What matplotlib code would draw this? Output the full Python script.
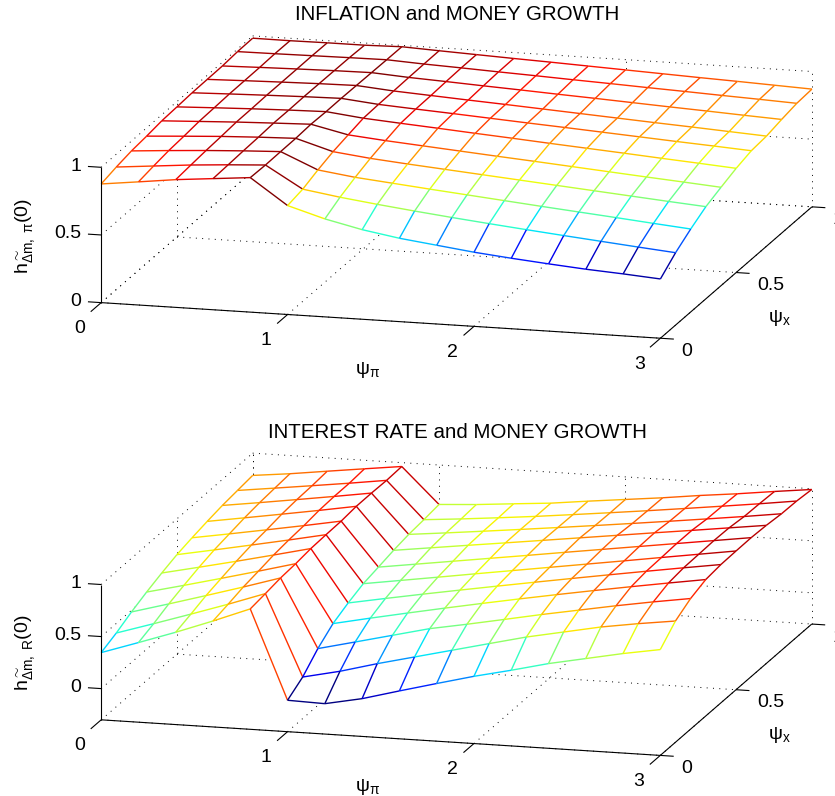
import numpy as np
import matplotlib
matplotlib.use('Agg')
import matplotlib.pyplot as plt
from matplotlib.colors import Normalize
from mpl_toolkits.mplot3d.art3d import Line3DCollection, Poly3DCollection

plt.rcParams['font.family'] = ['Liberation Sans', 'DejaVu Sans']
plt.rcParams['mathtext.fontset'] = 'custom'
plt.rcParams['mathtext.rm'] = 'Liberation Sans'
plt.rcParams['mathtext.it'] = 'Liberation Sans:italic'
plt.rcParams['mathtext.bf'] = 'Liberation Sans:bold'
plt.rcParams['mathtext.sf'] = 'Liberation Sans'

# ---------------- data ----------------
psi_pi = [0.0, 0.2, 0.4, 0.6, 0.8, 1.0, 1.2, 1.4, 1.6, 1.8, 2.0, 2.2, 2.4, 2.6, 2.8, 3.0]
psi_x = [0.0, 0.1, 0.2, 0.3, 0.4, 0.5, 0.6, 0.7, 0.8, 0.9, 1.0]

# rows: psi_x, columns: psi_pi
h_pi = [
    [0.877, 0.910, 0.944, 0.969, 0.994, 0.805, 0.724, 0.662, 0.616, 0.582, 0.548, 0.521, 0.497, 0.475, 0.458, 0.438],
    [0.905, 0.930, 0.955, 0.974, 0.990, 0.829, 0.787, 0.752, 0.720, 0.690, 0.662, 0.635, 0.609, 0.584, 0.559, 0.535],
    [0.927, 0.947, 0.965, 0.980, 0.992, 0.874, 0.837, 0.811, 0.785, 0.760, 0.735, 0.710, 0.686, 0.662, 0.637, 0.613],
    [0.939, 0.956, 0.972, 0.984, 0.993, 0.912, 0.880, 0.856, 0.834, 0.812, 0.790, 0.768, 0.746, 0.724, 0.702, 0.681],
    [0.955, 0.968, 0.981, 0.991, 1.000, 0.939, 0.914, 0.893, 0.872, 0.851, 0.831, 0.810, 0.789, 0.768, 0.748, 0.727],
    [0.961, 0.972, 0.982, 0.990, 0.996, 0.965, 0.945, 0.926, 0.906, 0.887, 0.867, 0.848, 0.829, 0.809, 0.790, 0.770],
    [0.968, 0.977, 0.985, 0.992, 0.997, 0.970, 0.953, 0.937, 0.920, 0.903, 0.887, 0.870, 0.853, 0.836, 0.820, 0.803],
    [0.970, 0.978, 0.985, 0.991, 0.995, 0.972, 0.956, 0.940, 0.925, 0.909, 0.893, 0.877, 0.861, 0.846, 0.830, 0.814],
    [0.972, 0.979, 0.985, 0.990, 0.993, 0.975, 0.962, 0.948, 0.935, 0.921, 0.908, 0.894, 0.880, 0.867, 0.853, 0.840],
    [0.981, 0.983, 0.986, 0.989, 0.991, 0.977, 0.966, 0.954, 0.943, 0.931, 0.920, 0.908, 0.897, 0.885, 0.874, 0.862],
    [0.983, 0.982, 0.984, 0.984, 0.990, 0.978, 0.967, 0.956, 0.946, 0.935, 0.924, 0.913, 0.902, 0.892, 0.881, 0.870],
]

h_R = [
    [0.346, 0.465, 0.587, 0.718, 0.857, 0.002, -0.008, 0.063, 0.160, 0.254, 0.346, 0.427, 0.514, 0.585, 0.656, 0.717],
    [0.408, 0.520, 0.635, 0.753, 0.878, 0.099, 0.177, 0.273, 0.360, 0.447, 0.534, 0.620, 0.691, 0.762, 0.817, 0.865],
    [0.484, 0.584, 0.687, 0.792, 0.902, 0.246, 0.332, 0.419, 0.506, 0.571, 0.640, 0.710, 0.775, 0.840, 0.900, 0.955],
    [0.549, 0.636, 0.726, 0.818, 0.913, 0.360, 0.435, 0.507, 0.577, 0.645, 0.711, 0.775, 0.837, 0.897, 0.955, 1.011],
    [0.606, 0.684, 0.764, 0.847, 0.932, 0.432, 0.498, 0.562, 0.624, 0.685, 0.745, 0.804, 0.862, 0.919, 0.975, 1.029],
    [0.656, 0.724, 0.794, 0.865, 0.939, 0.491, 0.545, 0.599, 0.654, 0.708, 0.762, 0.816, 0.870, 0.925, 0.979, 1.033],
    [0.692, 0.752, 0.814, 0.877, 0.943, 0.524, 0.575, 0.626, 0.677, 0.728, 0.780, 0.831, 0.882, 0.933, 0.984, 1.035],
    [0.723, 0.780, 0.838, 0.897, 0.959, 0.559, 0.606, 0.653, 0.699, 0.746, 0.793, 0.840, 0.887, 0.933, 0.980, 1.027],
    [0.750, 0.800, 0.852, 0.905, 0.960, 0.586, 0.623, 0.662, 0.702, 0.743, 0.785, 0.828, 0.872, 0.917, 0.963, 1.012],
    [0.768, 0.813, 0.859, 0.906, 0.956, 0.601, 0.631, 0.665, 0.701, 0.741, 0.782, 0.824, 0.868, 0.913, 0.959, 1.008],
    [0.786, 0.825, 0.872, 0.918, 0.963, 0.621, 0.643, 0.673, 0.702, 0.744, 0.783, 0.822, 0.867, 0.906, 0.951, 0.993],
]

x_ticks = [0, 1, 2, 3]
x_ticklabels = ['0', '1', '2', '3']
y_ticks = [0, 0.5, 1]
y_ticklabels = ['0', '0.5', '1']
z_ticks = [0, 0.5, 1]
z_ticklabels = ['0', '0.5', '1']

titles = ['INFLATION and MONEY GROWTH', 'INTEREST RATE and MONEY GROWTH']
xlabel = r'$\mathrm{\psi_{\pi}}$'
ylabel = r'$\mathrm{\psi_{x}}$'
zlabels = [r'$\mathrm{h}^{\sim}_{\mathrm{\Delta m,\ \pi}}\mathrm{(0)}$',
           r'$\mathrm{h}^{\sim}_{\mathrm{\Delta m,\ R}}\mathrm{(0)}$']
zlims = [(0.0, 1.0), (-0.3, 1.0)]

# ---------------- layout ----------------
W, H = 835, 796
fig = plt.figure(figsize=(W / 100, H / 100), dpi=100)
fig.patch.set_facecolor('white')

FS = 14
cmap = plt.get_cmap('jet', 64)
ELEV, AZIM = 13.59, -74.84
BOX = (1.0, 1.0, 0.2403)


def draw_panel(ax, Z, zlim, zlabel):
    Z = np.asarray(Z, dtype=float)
    Xg, Yg = np.meshgrid(psi_pi, psi_x)
    ny, nx = Z.shape
    zmin, zmax = zlim
    zr = zmax - zmin
    x0, x1 = psi_pi[0], psi_pi[-1]
    y0, y1 = psi_x[0], psi_x[-1]
    ax.computed_zorder = False
    ax.set_proj_type('ortho')
    ax.view_init(elev=ELEV, azim=AZIM)
    ax.set_box_aspect(BOX)
    ax.set_xlim(x0, x1)
    ax.set_ylim(y0, y1)
    ax.set_zlim(zmin, zmax)
    ax.set_axis_off()
    ax.patch.set_alpha(0)

    grid_kw = dict(color='k', lw=0.7, ls=(0, (1, 5.5)), zorder=1)
    for xt in x_ticks:
        ax.plot([xt, xt], [y0, y1], [zmin, zmin], **grid_kw)
    for yt in y_ticks:
        ax.plot([x0, x1], [yt, yt], [zmin, zmin], **grid_kw)
    for xt in x_ticks:
        ax.plot([xt, xt], [y1, y1], [zmin, zmax], **grid_kw)
    for zt in z_ticks:
        ax.plot([x0, x1], [y1, y1], [zt, zt], **grid_kw)
    for yt in y_ticks[1:]:
        ax.plot([x0, x0], [yt, yt], [zmin, zmax], **grid_kw)
    for zt in z_ticks:
        ax.plot([x0, x0], [y0, y1], [zt, zt], **grid_kw)

    quads = []
    for j in range(ny - 1):
        for i in range(nx - 1):
            quads.append([(Xg[j, i], Yg[j, i], Z[j, i]),
                          (Xg[j, i + 1], Yg[j, i + 1], Z[j, i + 1]),
                          (Xg[j + 1, i + 1], Yg[j + 1, i + 1], Z[j + 1, i + 1]),
                          (Xg[j + 1, i], Yg[j + 1, i], Z[j + 1, i])])
    pc = Poly3DCollection(quads, facecolors='white', edgecolors='none', zorder=2)
    ax.add_collection3d(pc)

    norm = Normalize(vmin=Z.min(), vmax=Z.max())
    segs, cv = [], []
    for j in range(ny):
        for i in range(nx - 1):
            segs.append([(Xg[j, i], Yg[j, i], Z[j, i]), (Xg[j, i + 1], Yg[j, i + 1], Z[j, i + 1])])
            cv.append(Z[min(j, ny - 2), i])
    for i in range(nx):
        for j in range(ny - 1):
            segs.append([(Xg[j, i], Yg[j, i], Z[j, i]), (Xg[j + 1, i], Yg[j + 1, i], Z[j + 1, i])])
            cv.append(Z[j, min(i, nx - 2)])
    lc = Line3DCollection(segs, colors=cmap(norm(np.array(cv))), linewidths=1.0, zorder=3)
    ax.add_collection3d(lc)

    ak = dict(color='k', lw=0.8, zorder=4, solid_capstyle='butt')
    ax.plot([x0, x1], [y0, y0], [zmin, zmin], **ak)
    ax.plot([x1, x1], [y0, y1], [zmin, zmin], **ak)
    ax.plot([x0, x0], [y0, y0], [zmin, zmax], **ak)
    for xt in x_ticks:
        ax.plot([xt, xt], [y0, y0 - 0.069], [zmin, zmin], **ak)
    for yt in y_ticks:
        ax.plot([x1, x1 + 0.072], [yt, yt], [zmin, zmin], **ak)
    for zt in z_ticks:
        ax.plot([x0, x0 - 0.071], [y0, y0], [zt, zt], **ak)

    # label anchors in data space: (x, y, z, text, ha, va, rotation)
    labels = []
    for xt, s in zip(x_ticks, x_ticklabels):
        labels.append((xt, y0 - 0.14, zmin - 0.055 * zr, s, 'center', 'center', 0))
    for yt, s in zip(y_ticks, y_ticklabels):
        labels.append((x1 + 0.113, yt, zmin - 0.087 * zr, s, 'left', 'center', 0))
    for zt, s in zip(z_ticks, z_ticklabels):
        labels.append((x0 - 0.106, y0, zt, s, 'right', 'center', 0))
    labels.append((1.5, y0 - 0.09, zmin - 0.277 * zr, xlabel, 'center', 'center', 0))
    labels.append((3.2, 0.542, zmin - 0.359 * zr, ylabel, 'center', 'center', 0))
    labels.append((x0 - 0.409, y0, zmin + 0.458 * zr, zlabel, 'center', 'center', 90))
    return labels


def to_display(ax, pts):
    M = ax.get_proj()
    P = np.asarray(pts, dtype=float)
    hom = np.column_stack([P, np.ones(len(P))]) @ M.T
    uv = hom[:, :2] / hom[:, 3:4]
    return ax.transData.transform(uv)


def calibrate(ax, targets):
    disp = to_display(ax, [t[0] for t in targets])
    tgt = np.array([[X, H - Y] for (_, (X, Y)) in targets])
    dm, tm = disp.mean(0), tgt.mean(0)
    s = np.sum((disp - dm) * (tgt - tm)) / np.sum((disp - dm) ** 2)
    c = tm - s * dm
    bb = ax.get_position().transformed(fig.transFigure)
    ax.set_position([(s * bb.x0 + c[0]) / W, (s * bb.y0 + c[1]) / H,
                     s * bb.width / W, s * bb.height / H])


def place_labels(ax, labels):
    pts = [(l[0], l[1], l[2]) for l in labels]
    d = to_display(ax, pts)
    for (px, py), l in zip(d, labels):
        fig.text(px / W, py / H, l[3], ha=l[4], va=l[5], rotation=l[6], fontsize=FS)


ax1 = fig.add_axes([0.05, 0.5, 0.9, 0.5], projection='3d')
ax2 = fig.add_axes([0.05, 0.0, 0.9, 0.5], projection='3d')
lab1 = draw_panel(ax1, h_pi, zlims[0], zlabels[0])
lab2 = draw_panel(ax2, h_R, zlims[1], zlabels[1])

fig.canvas.draw()
calibrate(ax1, [((0, 0, 0), (101.2, 302.7)), ((3, 0, 0), (660.3, 338.3)),
                ((3, 1, 0), (812.0, 206.7)), ((0, 0, 1), (101.2, 167.3))])
calibrate(ax2, [((0, 0, -0.3), (101.2, 720.0)), ((3, 0, -0.3), (660.3, 755.5)),
                ((3, 1, -0.3), (811.7, 624.0)), ((0, 0, 1), (101.2, 584.3))])
fig.canvas.draw()
place_labels(ax1, lab1)
place_labels(ax2, lab2)

fig.text(457.5 / W, 1 - 14.5 / H, titles[0], ha='center', va='center', fontsize=14.8)
fig.text(457.5 / W, 1 - 432.0 / H, titles[1], ha='center', va='center', fontsize=14.8)

fig.savefig('out.png', dpi=100, facecolor='white')
